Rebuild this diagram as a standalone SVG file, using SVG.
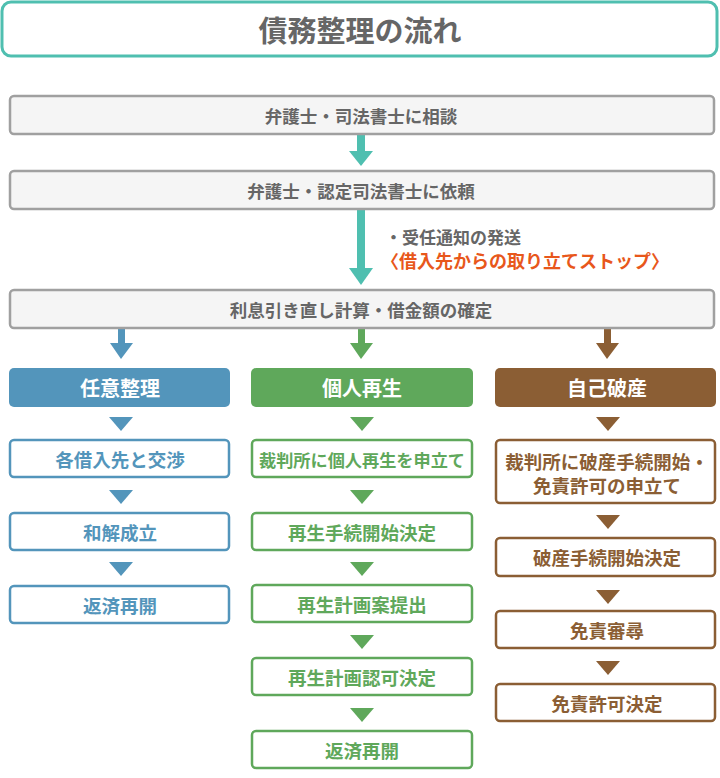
<svg xmlns="http://www.w3.org/2000/svg" width="720" height="778" viewBox="0 0 720 778">
<style>
text{font-family:"Noto Sans CJK JP",sans-serif;font-weight:bold;text-anchor:middle;dominant-baseline:central}
.g{fill:#f5f5f5;stroke:#a0a0a0;stroke-width:2.5}
.gt{fill:#666;font-size:17.5px}
.b{fill:#fff;stroke:#5395bb;stroke-width:2.5}.bt{fill:#5395bb;font-size:18.5px}
.gr{fill:#fff;stroke:#5fa85b;stroke-width:2.5}.grt{fill:#5fa85b;font-size:18.5px}
.br{fill:#fff;stroke:#8b5e34;stroke-width:2.5}.brt{fill:#8b5e34;font-size:18.5px}
.h{fill:#fff;font-size:20px}
</style>
<g id="title"><rect x="2" y="2" width="715" height="54" rx="9" fill="#fff" stroke="#4fbfb0" stroke-width="3"/><text x="360" y="29" style="font-size:29px;fill:#666">債務整理の流れ</text></g>
<g id="connectors">
<rect x="357" y="134" width="8" height="18" fill="#4fbfb0"/><polygon points="349,151 373,151 361,166" fill="#4fbfb0"/>
<rect x="357" y="208" width="8" height="62" fill="#4fbfb0"/><polygon points="349,268 373,268 361,285" fill="#4fbfb0"/>
<rect x="118" y="328" width="7" height="16" fill="#5395bb"/><polygon points="110,343 133,343 121,359" fill="#5395bb"/>
<rect x="358" y="328" width="7" height="16" fill="#5fa85b"/><polygon points="350,343 373,343 361,359" fill="#5fa85b"/>
<rect x="604" y="328" width="7" height="16" fill="#8b5e34"/><polygon points="596,343 619,343 607,359" fill="#8b5e34"/>
<g fill="#5395bb"><polygon points="109,417 133,417 121,431"/><polygon points="109,490 133,490 121,504"/><polygon points="109,562 133,562 121,576"/></g>
<g fill="#5fa85b"><polygon points="350,417 374,417 362,431"/><polygon points="350,490 374,490 362,504"/><polygon points="350,562 374,562 362,576"/><polygon points="350,635 374,635 362,649"/><polygon points="350,708 374,708 362,722"/></g>
<g fill="#8b5e34"><polygon points="596,417 620,417 608,431"/><polygon points="596,515 620,515 608,529"/><polygon points="596,590 620,590 608,604"/><polygon points="596,661 620,661 608,675"/></g>
</g>
<text x="385" y="236" style="font-size:17px;fill:#666;text-anchor:start">・受任通知の発送</text>
<text x="381" y="260" style="font-size:18px;fill:#e8571b;text-anchor:start">〈借入先からの取り立てストップ〉</text>
<g id="s1"><rect class="g" x="10" y="96" width="704" height="38" rx="4"/><text class="gt" x="361" y="115">弁護士・司法書士に相談</text></g>
<g id="s2"><rect class="g" x="10" y="171" width="704" height="38" rx="4"/><text class="gt" x="361" y="190">弁護士・認定司法書士に依頼</text></g>
<g id="s3"><rect class="g" x="10" y="290" width="704" height="38" rx="4"/><text class="gt" x="361" y="309">利息引き直し計算・借金額の確定</text></g>
<g id="h1"><rect x="9" y="368" width="221" height="39" rx="5" fill="#5395bb"/><text class="h" x="120" y="387">任意整理</text></g>
<g id="h2"><rect x="251" y="368" width="222" height="39" rx="5" fill="#5fa85b"/><text class="h" x="362" y="387">個人再生</text></g>
<g id="h3"><rect x="495" y="368" width="221" height="39" rx="5" fill="#8b5e34"/><text class="h" x="607" y="387">自己破産</text></g>
<g id="b1"><rect class="b" x="10" y="440" width="219" height="37" rx="4"/><text class="bt" x="120" y="459">各借入先と交渉</text></g>
<g id="b2"><rect class="b" x="10" y="513" width="219" height="37" rx="4"/><text class="bt" x="120" y="532">和解成立</text></g>
<g id="b3"><rect class="b" x="10" y="586" width="219" height="37" rx="4"/><text class="bt" x="120" y="605">返済再開</text></g>
<g id="g1"><rect class="gr" x="252" y="440" width="220" height="37" rx="4"/><text class="grt" x="362" y="459" style="font-size:17px" textLength="206" lengthAdjust="spacingAndGlyphs">裁判所に個人再生を申立て</text></g>
<g id="g2"><rect class="gr" x="252" y="513" width="220" height="37" rx="4"/><text class="grt" x="362" y="532">再生手続開始決定</text></g>
<g id="g3"><rect class="gr" x="252" y="585" width="220" height="37" rx="4"/><text class="grt" x="362" y="604">再生計画案提出</text></g>
<g id="g4"><rect class="gr" x="252" y="658" width="220" height="37" rx="4"/><text class="grt" x="362" y="677">再生計画認可決定</text></g>
<g id="g5"><rect class="gr" x="252" y="731" width="220" height="37" rx="4"/><text class="grt" x="362" y="750">返済再開</text></g>
<g id="r1"><rect class="br" x="496" y="440" width="219" height="63" rx="4"/><text class="brt" x="607" y="461">裁判所に破産手続開始・</text><text class="brt" x="607" y="485">免責許可の申立て</text></g>
<g id="r2"><rect class="br" x="496" y="538" width="219" height="38" rx="4"/><text class="brt" x="607" y="557">破産手続開始決定</text></g>
<g id="r3"><rect class="br" x="496" y="611" width="219" height="37" rx="4"/><text class="brt" x="607" y="630">免責審尋</text></g>
<g id="r4"><rect class="br" x="496" y="684" width="219" height="37" rx="4"/><text class="brt" x="607" y="703">免責許可決定</text></g>
</svg>
